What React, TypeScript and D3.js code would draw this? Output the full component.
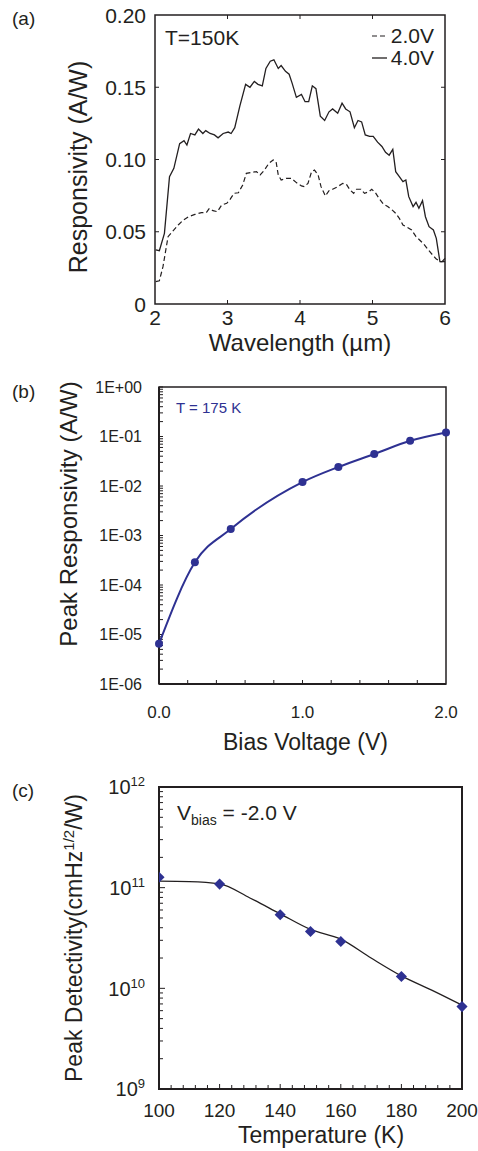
import React from 'react';
import * as d3 from 'd3';

const ink = '#231f20';
const blue = '#2e3192';
const font = '"Liberation Sans", Arial, Helvetica, sans-serif';

// (a) spectral responsivity, T=150K
const wl4V = [2.01, 2.06, 2.13, 2.2, 2.26, 2.34, 2.4, 2.44, 2.49, 2.55, 2.6, 2.66, 2.7, 2.76, 2.82, 2.87, 2.94, 3.01, 3.05, 3.1, 3.17, 3.25, 3.31, 3.37, 3.42, 3.48, 3.53, 3.59, 3.64, 3.7, 3.74, 3.8, 3.85, 3.89, 3.95, 4.02, 4.07, 4.12, 4.17, 4.22, 4.28, 4.34, 4.4, 4.45, 4.52, 4.58, 4.63, 4.69, 4.75, 4.8, 4.85, 4.9, 4.96, 5.01, 5.07, 5.13, 5.18, 5.23, 5.28, 5.32, 5.37, 5.42, 5.46, 5.5, 5.56, 5.6, 5.64, 5.69, 5.73, 5.78, 5.84, 5.88, 5.93, 5.96, 6.0];
const resp4V = [0.0374, 0.0369, 0.0489, 0.0881, 0.0939, 0.111, 0.113, 0.11, 0.118, 0.117, 0.121, 0.118, 0.12, 0.118, 0.117, 0.115, 0.118, 0.119, 0.118, 0.122, 0.137, 0.152, 0.15, 0.154, 0.152, 0.151, 0.163, 0.168, 0.169, 0.163, 0.165, 0.161, 0.159, 0.153, 0.143, 0.145, 0.14, 0.14, 0.151, 0.149, 0.13, 0.127, 0.133, 0.135, 0.132, 0.139, 0.135, 0.133, 0.122, 0.127, 0.126, 0.117, 0.116, 0.116, 0.112, 0.109, 0.105, 0.103, 0.107, 0.0916, 0.0881, 0.0847, 0.0858, 0.0743, 0.0674, 0.0704, 0.0662, 0.0715, 0.0604, 0.0535, 0.0512, 0.0454, 0.0293, 0.0293, 0.0316];
const wl2V = [2.01, 2.06, 2.11, 2.18, 2.24, 2.32, 2.39, 2.46, 2.55, 2.64, 2.71, 2.75, 2.8, 2.86, 2.92, 2.99, 3.04, 3.09, 3.15, 3.21, 3.26, 3.33, 3.4, 3.45, 3.51, 3.57, 3.63, 3.67, 3.7, 3.74, 3.81, 3.88, 3.95, 4.02, 4.06, 4.11, 4.16, 4.2, 4.25, 4.29, 4.35, 4.4, 4.45, 4.52, 4.59, 4.64, 4.69, 4.74, 4.78, 4.84, 4.89, 4.95, 4.99, 5.04, 5.09, 5.15, 5.21, 5.27, 5.32, 5.37, 5.42, 5.48, 5.54, 5.6, 5.65, 5.71, 5.77, 5.83, 5.88, 5.94, 6.0];
const resp2V = [0.0155, 0.0161, 0.0258, 0.0466, 0.0501, 0.0547, 0.0581, 0.0604, 0.062, 0.0632, 0.0634, 0.0662, 0.0646, 0.0639, 0.0685, 0.0697, 0.0727, 0.0766, 0.077, 0.0824, 0.0904, 0.0911, 0.0916, 0.0893, 0.0927, 0.0973, 0.0997, 0.0985, 0.0893, 0.0858, 0.087, 0.087, 0.084, 0.0817, 0.0812, 0.0835, 0.0916, 0.0927, 0.0893, 0.0812, 0.0747, 0.0784, 0.0794, 0.0812, 0.0835, 0.0828, 0.0789, 0.0766, 0.0794, 0.0794, 0.0766, 0.0777, 0.0794, 0.077, 0.0731, 0.0692, 0.0674, 0.0651, 0.0627, 0.0593, 0.0547, 0.0531, 0.0512, 0.0466, 0.0443, 0.0413, 0.0374, 0.0339, 0.0311, 0.0293, 0.0293];
const aXTicks = [2, 3, 4, 5, 6];
const aYTicks = [0, 0.05, 0.1, 0.15, 0.2];
const aYTickLabels = ['0', '0.05', '0.10', '0.15', '0.20'];

// (b) peak responsivity vs bias, T=175K
const biasVoltage = [0, 0.25, 0.5, 1.0, 1.25, 1.5, 1.75, 2.0];
const peakResp = [6.5e-6, 2.87e-4, 1.35e-3, 1.2e-2, 2.42e-2, 4.43e-2, 8.2e-2, 1.21e-1];
const bYTicks = [1, 1e-1, 1e-2, 1e-3, 1e-4, 1e-5, 1e-6];
const bYTickLabels = ['1E+00', '1E-01', '1E-02', '1E-03', '1E-04', '1E-05', '1E-06'];
const bXLabels = [0, 1, 2];

// (c) peak detectivity vs temperature, Vbias=-2.0V
const temps = [100, 120, 140, 150, 160, 180, 200];
const detectivity = [1.27e11, 1.085e11, 5.38e10, 3.67e10, 2.92e10, 1.31e10, 6.59e9];
const fitTemps = [100, 110, 120, 130, 140, 150, 160, 170, 180, 190, 200];
const fitDetectivity = [1.16e11, 1.15e11, 1.09e11, 7.9e10, 5.5e10, 3.85e10, 3.08e10, 2.0e10, 1.33e10, 9.6e9, 6.8e9];
const cYTicks = [1e12, 1e11, 1e10, 1e9];
const cYExp = ['12', '11', '10', '9'];
const cXLabels = [100, 120, 140, 160, 180, 200];

function PanelA() {
  const L = 155, R = 445, T = 15, B = 304;
  const x = d3.scaleLinear().domain([2, 6]).range([L, R]);
  const y = d3.scaleLinear().domain([0, 0.2]).range([B, T]);
  const line = d3.line<number>();
  const p4 = line(wl4V.map((w, i) => [x(w), y(resp4V[i])]) as any) || '';
  const p2 = line(wl2V.map((w, i) => [x(w), y(resp2V[i])]) as any) || '';
  const tl = 4;
  return (
    <g>
      <text x={12} y={25} fontSize={19}>(a)</text>
      <path d={p2} fill="none" stroke={ink} strokeWidth={1.2} strokeDasharray="5,3" />
      <path d={p4} fill="none" stroke={ink} strokeWidth={1.3} />
      {aXTicks.slice(1, -1).map(v => (
        <g key={'xt' + v}>
          <line x1={x(v)} x2={x(v)} y1={B} y2={B - tl} stroke={ink} />
          <line x1={x(v)} x2={x(v)} y1={T} y2={T + tl} stroke={ink} />
        </g>
      ))}
      {aYTicks.slice(1, -1).map(v => (
        <g key={'yt' + v}>
          <line x1={L} x2={L + tl} y1={y(v)} y2={y(v)} stroke={ink} />
          <line x1={R} x2={R - tl} y1={y(v)} y2={y(v)} stroke={ink} />
        </g>
      ))}
      <rect x={L} y={T} width={R - L} height={B - T} fill="none" stroke={ink} strokeWidth={1.5} />
      {aXTicks.map(v => (
        <text key={'xl' + v} x={x(v)} y={325} fontSize={21} textAnchor="middle">{v}</text>
      ))}
      {aYTicks.map((v, i) => (
        <text key={'yl' + v} x={146} y={y(v)} dy="0.36em" fontSize={21} textAnchor="end">{aYTickLabels[i]}</text>
      ))}
      <text x={(L + R) / 2} y={351} fontSize={24} textAnchor="middle">Wavelength (µm)</text>
      <text transform={`translate(87,167) rotate(-90)`} fontSize={25} textAnchor="middle">Responsivity (A/W)</text>
      <text x={165} y={45} fontSize={21}>T=150K</text>
      <line x1={372} x2={387} y1={36} y2={36} stroke={ink} strokeWidth={1.2} strokeDasharray="5,3" />
      <text x={434} y={43} fontSize={21} textAnchor="end">2.0V</text>
      <line x1={372} x2={387} y1={58} y2={58} stroke={ink} strokeWidth={1.3} />
      <text x={434} y={65} fontSize={21} textAnchor="end">4.0V</text>
    </g>
  );
}

function PanelB() {
  const L = 159, R = 446, T = 387, B = 684;
  const x = d3.scaleLinear().domain([0, 2]).range([L, R]);
  const y = d3.scaleLog().domain([1e-6, 1]).range([B, T]);
  const pts = biasVoltage.map((v, i) => [x(v), y(peakResp[i])] as [number, number]);
  const path = d3.line().curve(d3.curveMonotoneX)(pts) || '';
  const minor = y.ticks();
  const xMinor = d3.range(1, 10).map(i => i * 0.2);
  return (
    <g>
      <text x={12} y={398} fontSize={19}>(b)</text>
      {minor.map((v, i) => (
        <line key={'m' + i} x1={L} x2={L + 4} y1={y(v)} y2={y(v)} stroke={ink} strokeWidth={1} />
      ))}
      {xMinor.map((v, i) => (
        <line key={'xm' + i} x1={x(v)} x2={x(v)} y1={B} y2={B - 4} stroke={ink} strokeWidth={1} />
      ))}
      <rect x={L} y={T} width={R - L} height={B - T} fill="none" stroke={ink} strokeWidth={1.5} />
      <line x1={L} x2={L} y1={T} y2={B} stroke={ink} strokeWidth={2} />
      <line x1={L} x2={R} y1={B} y2={B} stroke={ink} strokeWidth={2} />
      <path d={path} fill="none" stroke={blue} strokeWidth={2} />
      {pts.map((p, i) => (
        <circle key={'c' + i} cx={p[0]} cy={p[1]} r={4} fill={blue} />
      ))}
      {bYTicks.map((v, i) => (
        <text key={'yl' + i} x={142} y={y(v)} dy="0.36em" fontSize={16} textAnchor="end">{bYTickLabels[i]}</text>
      ))}
      {bXLabels.map(v => (
        <text key={'xl' + v} x={x(v)} y={718} fontSize={17} textAnchor="middle">{v.toFixed(1)}</text>
      ))}
      <text x={(L + R) / 2 + 3} y={750} fontSize={23} textAnchor="middle">Bias Voltage (V)</text>
      <text transform={`translate(77,514) rotate(-90)`} fontSize={24} textAnchor="middle">Peak Responsivity (A/W)</text>
      <text x={176} y={413} fontSize={15} fill={blue}>T = 175 K</text>
    </g>
  );
}

function PanelC() {
  const L = 159, R = 462, T = 787, B = 1089;
  const x = d3.scaleLinear().domain([100, 200]).range([L, R]);
  const y = d3.scaleLog().domain([1e9, 1e12]).range([B, T]);
  const fit = d3.line().curve(d3.curveMonotoneX)(fitTemps.map((t, i) => [x(t), y(fitDetectivity[i])] as [number, number])) || '';
  const minor = y.ticks();
  const xMinor = d3.range(1, 25).map(i => 100 + i * 4);
  const diamond = d3.symbol(d3.symbolSquare, 62)() || '';
  return (
    <g>
      <defs>
        <clipPath id="clipC">
          <rect x={L} y={T - 20} width={R - L + 30} height={B - T + 40} />
        </clipPath>
      </defs>
      <text x={12} y={797} fontSize={19}>(c)</text>
      {minor.map((v, i) => {
        const major = cYTicks.includes(v);
        return <line key={'m' + i} x1={L} x2={L + (major ? 6 : 4)} y1={y(v)} y2={y(v)} stroke={ink} strokeWidth={1} />;
      })}
      {xMinor.map((v, i) => (
        <line key={'xm' + i} x1={x(v)} x2={x(v)} y1={B} y2={B - (v % 20 === 0 ? 5 : 4)} stroke={ink} strokeWidth={1} />
      ))}
      <rect x={L} y={T} width={R - L} height={B - T} fill="none" stroke={ink} strokeWidth={2} />
      <path d={fit} fill="none" stroke={ink} strokeWidth={1.3} />
      <g clipPath="url(#clipC)">
        {temps.map((t, i) => (
          <path key={'d' + i} d={diamond} transform={`translate(${x(t)},${y(detectivity[i])}) rotate(45)`} fill={blue} />
        ))}
      </g>
      {cYTicks.map((v, i) => (
        <text key={'yl' + i} x={145} y={y(v)} dy="0.36em" fontSize={20} textAnchor="end">
          10<tspan dy="-8" fontSize={13}>{cYExp[i]}</tspan>
        </text>
      ))}
      {cXLabels.map(v => (
        <text key={'xl' + v} x={x(v)} y={1117} fontSize={19} textAnchor="middle">{v}</text>
      ))}
      <text x={321} y={1143} fontSize={23} textAnchor="middle">Temperature (K)</text>
      <text transform={`translate(82,938) rotate(-90)`} fontSize={23} textAnchor="middle">
        Peak Detectivity(cmHz<tspan dy="-8" fontSize={15}>1/2</tspan><tspan dy="8">/W)</tspan>
      </text>
      <text x={177} y={820} fontSize={21}>
        V<tspan dy="5" fontSize={14}>bias</tspan><tspan dy="-5"> = -2.0 V</tspan>
      </text>
    </g>
  );
}

export default function App() {
  return (
    <svg
      width={478}
      height={1151}
      style={{ position: 'absolute', left: 0, top: 0, background: '#fff' }}
      fontFamily={font}
      fill={ink}
    >
      <rect width={478} height={1151} fill="#fff" />
      <PanelA />
      <PanelB />
      <PanelC />
    </svg>
  );
}
